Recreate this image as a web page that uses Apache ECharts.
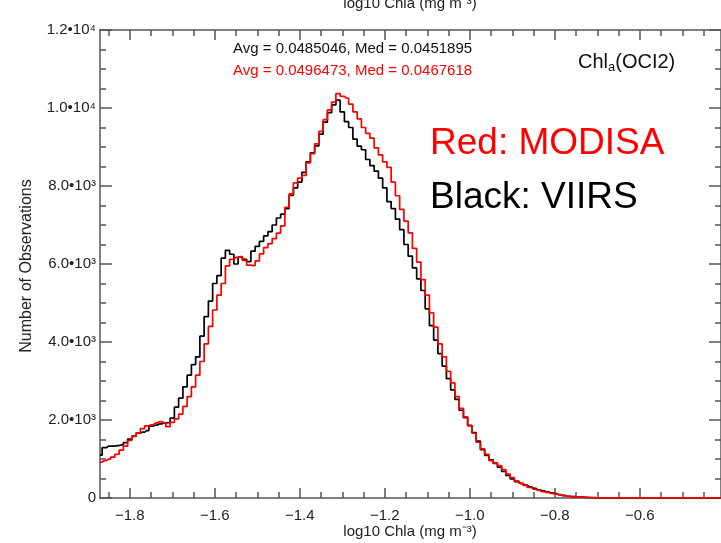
<!DOCTYPE html>
<html><head><meta charset="utf-8">
<script src="https://cdn.jsdelivr.net/npm/echarts@6/dist/echarts.min.js"></script>
<style>html,body{margin:0;padding:0;background:#fff}#c{width:721px;height:543px}</style>
</head><body><div id="c"></div>
<script>
// Histogram bins (log10 Chla), centers start at binStart, spaced binWidth
const binStart = -1.87;
const binWidth = 0.01;
// Black: VIIRS counts
const viirs = [
 1100,1290,1330,1330,1345,1360,1420,1510,1590,1660,
 1690,1730,1840,1870,1900,1925,1930,2050,2330,2560,
 2850,3150,3420,3620,4150,4650,5050,5500,5700,6150,
 6350,6250,6000,6180,6120,6060,6330,6450,6580,6720,
 6830,7000,7180,7280,7420,7760,7950,8100,8350,8620,
 8850,9030,9330,9640,9880,10080,10200,9900,9650,9500,
 9200,9020,8930,8680,8520,8380,8200,7950,7600,7420,
 7150,6880,6500,6200,5900,5620,5320,4850,4420,4050,
 3700,3380,3060,2770,2530,2250,2060,1860,1680,1460,
 1240,1090,980,890,790,680,580,490,420,370,
 330,285,250,210,185,160,135,110,85,65,
 45,34,28,22,17,12,8,5,4,3,
 2,2,2,1,2,1,1,2,1,1,
 1,0,1,1,0,1,0,0,1,0,
 0,0,1,0,0,0,0
];
// Red: MODISA counts
const modisa = [
 920,960,995,1050,1120,1230,1330,1480,1580,1670,
 1780,1850,1875,1920,1960,1930,1830,1940,2030,2150,
 2350,2600,2850,3150,3500,3950,4400,4820,5200,5500,
 5950,6120,6170,6190,6090,5970,5960,6080,6260,6420,
 6520,6650,6790,6980,7450,7800,8080,8200,8270,8590,
 8830,9080,9400,9700,9950,10150,10370,10300,10250,10100,
 9900,9720,9500,9350,9230,8980,8800,8620,8480,8100,
 7750,7400,7100,6800,6400,6050,5600,5200,4750,4380,
 3950,3620,3250,2950,2600,2300,2080,1850,1660,1430,
 1260,1120,960,900,830,730,610,520,440,380,
 325,270,225,195,165,145,120,100,80,55,
 42,33,27,20,14,10,7,5,4,4,
 3,3,3,3,2,3,2,2,3,2,
 2,2,2,2,2,2,2,1,2,2,
 1,2,1,2,1,2,2
];
const xMajorTicks = [-1.8, -1.6, -1.4, -1.2, -1.0, -0.8, -0.6];
const yTickValues = [0, 2000, 4000, 6000, 8000, 10000, 12000];
const yTickLabels = ['0', '2.0•10³', '4.0•10³', '6.0•10³', '8.0•10³', '1.0•10⁴', '1.2•10⁴'];
const axisTitle = 'log10 Chla (mg m⁻³)';
const yTitle = 'Number of Observations';
const statsViirs = 'Avg = 0.0485046, Med = 0.0451895';
const statsModisa = 'Avg = 0.0496473, Med = 0.0467618';
const legendRed = 'Red: MODISA';
const legendBlack = 'Black: VIIRS';

const FONT = '"Liberation Sans", Arial, Helvetica, sans-serif';
const xMin = -1.87, xMax = -0.409;
const xMinorTicks = [];
for (let k = 0; ; k++) {
  const v = Math.round((-1.85 + k * 0.05) * 100) / 100;
  if (v > xMax) break;
  if (!xMajorTicks.some(m => Math.abs(m - v) < 1e-6)) xMinorTicks.push(v);
}
const toPairs = arr => arr.map((c, i) => [+(binStart + i * binWidth).toFixed(3), c]);

const axLine = { color: '#555', width: 1.5 };
function xAx(pos, ticks, len, showLine, showLabel) {
  return {
    type: 'value', position: pos, min: xMin, max: xMax,
    axisLine: { show: showLine, onZero: false, lineStyle: axLine },
    axisTick: { show: true, inside: true, length: len, customValues: ticks, lineStyle: axLine },
    axisLabel: showLabel ? {
      show: true, customValues: ticks, margin: 10, fontSize: 15, color: '#222', fontFamily: FONT,
      formatter: v => v.toFixed(1).replace('-', '−')
    } : { show: false },
    splitLine: { show: false }
  };
}
function yAx(pos, showLabel) {
  return {
    type: 'value', position: pos, min: 0, max: 12000, interval: 2000,
    axisLine: { show: true, onZero: false, lineStyle: axLine },
    axisTick: { show: true, inside: true, length: 12, lineStyle: axLine },
    minorTick: { show: true, splitNumber: 4, length: 6, lineStyle: axLine },
    axisLabel: showLabel ? {
      show: true, margin: 4, fontSize: 15, color: '#222', fontFamily: FONT,
      formatter: v => yTickLabels[yTickValues.indexOf(v)]
    } : { show: false },
    splitLine: { show: false }, minorSplitLine: { show: false }
  };
}
const txt = (x, y, text, size, color, align, extra) => Object.assign({
  type: 'text', x: x, y: y, silent: true,
  style: { text: text, fontSize: size, fontFamily: FONT, fill: color,
    align: align, textAlign: align, verticalAlign: 'middle', textVerticalAlign: 'middle' }
}, extra || {});

const chart = echarts.init(document.getElementById('c'), null, { renderer: 'canvas' });
chart.setOption({
  animation: false,
  backgroundColor: '#fff',
  grid: { left: 100, top: 30, width: 622, height: 468, containLabel: false },
  xAxis: [
    xAx('bottom', xMajorTicks, 10, true, true),
    xAx('bottom', xMinorTicks, 6, false, false),
    xAx('top', xMajorTicks, 10, true, false),
    xAx('top', xMinorTicks, 6, false, false)
  ],
  yAxis: [yAx('left', true), yAx('right', false)],
  series: [
    { type: 'line', name: 'VIIRS', data: toPairs(viirs), step: 'middle', symbol: 'none',
      lineStyle: { color: '#000', width: 1.7 }, z: 3, clip: true },
    { type: 'line', name: 'MODISA', data: toPairs(modisa), step: 'middle', symbol: 'none',
      lineStyle: { color: '#ff0000', width: 1.7 }, z: 4, clip: true }
  ],
  graphic: [
    txt(410, 4, axisTitle, 15, '#222', 'center'),
    txt(410, 532, axisTitle, 15, '#222', 'center'),
    txt(27, 266, yTitle, 16, '#222', 'center', { rotation: Math.PI / 2 }),
    txt(233, 49, statsViirs, 15, '#111', 'left'),
    txt(233, 71, statsModisa, 15, '#ff0000', 'left'),
    { type: 'text', x: 578, y: 62, silent: true,
      style: { text: '{m|Chl}{s|a}{m|(OCI2)}', fontFamily: FONT, fill: '#111',
        align: 'left', textAlign: 'left', verticalAlign: 'middle', textVerticalAlign: 'middle',
        rich: {
          m: { fontSize: 20, fontFamily: FONT, fill: '#111', color: '#111', lineHeight: 24, verticalAlign: 'middle' },
          s: { fontSize: 13, fontFamily: FONT, fill: '#111', color: '#111', lineHeight: 13, verticalAlign: 'bottom' }
        } } },
    txt(430, 144, legendRed, 37, '#ff0000', 'left'),
    txt(430, 198, legendBlack, 37, '#000', 'left')
  ]
});
</script></body></html>
